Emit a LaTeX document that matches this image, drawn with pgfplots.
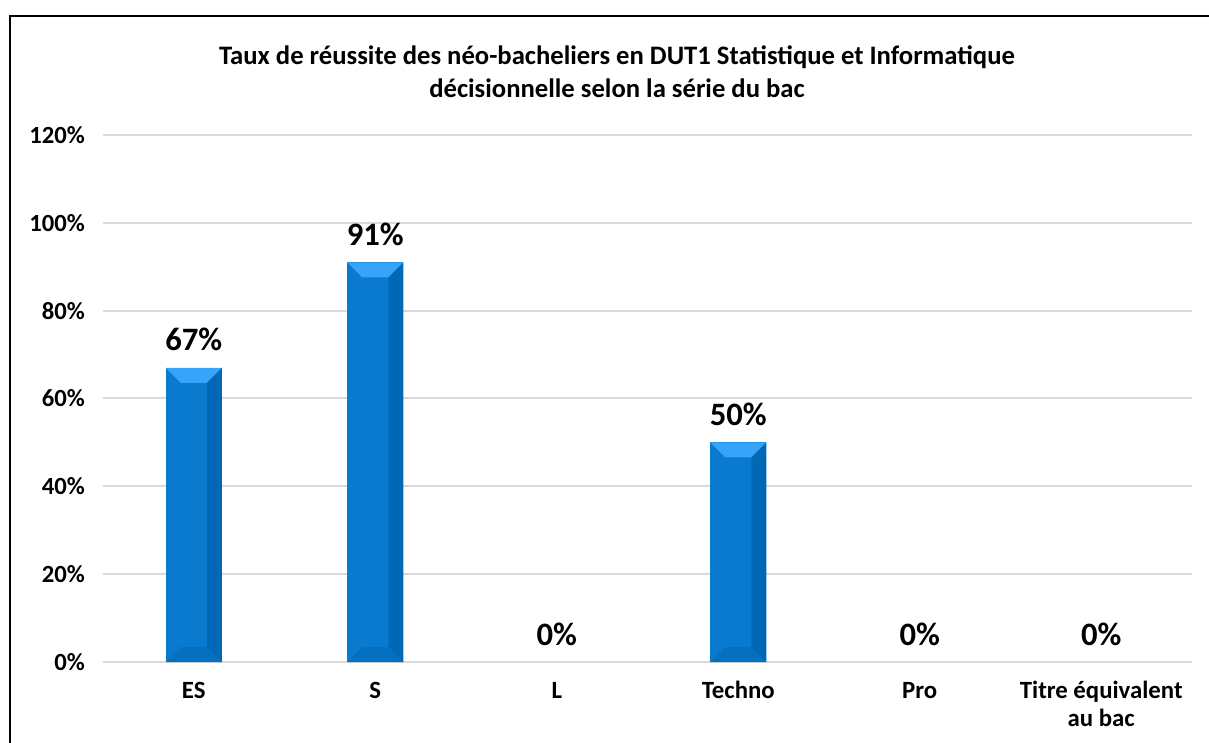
\documentclass[border=0pt]{standalone}
\usepackage{fontspec}
\setmainfont{Carlito}
\usepackage{pgfplots}
\pgfplotsset{compat=1.18}
\definecolor{barfront}{RGB}{10,122,206}
\definecolor{bartop}{RGB}{53,164,250}
\definecolor{barright}{RGB}{0,104,180}
\definecolor{barbottom}{RGB}{6,112,192}
\definecolor{gridgray}{RGB}{217,217,217}
\makeatletter
\newcommand\clearpp{\let\tikz@path@picture\pgfutil@empty}
\makeatother
\tikzset{bevel/.style={path picture={%
  \clearpp\tikzset{every path/.style={}}%
  \coordinate (NW) at (path picture bounding box.north west);
  \coordinate (NE) at (path picture bounding box.north east);
  \coordinate (SW) at (path picture bounding box.south west);
  \coordinate (SE) at (path picture bounding box.south east);
  \fill[barbottom] (SW) -- (SE) -- ([xshift=-11.25pt,yshift=11.25pt]SE) -- ([xshift=11.25pt,yshift=11.25pt]SW) -- cycle;
  \fill[barright] (NE) -- (SE) -- ([xshift=-11.25pt,yshift=11.25pt]SE) -- ([xshift=-11.25pt,yshift=-11.25pt]NE) -- cycle;
  \fill[bartop] (NW) -- (NE) -- ([xshift=-11.25pt,yshift=-11.25pt]NE) -- ([xshift=11.25pt,yshift=-11.25pt]NW) -- cycle;
}}}
\begin{document}
\begin{tikzpicture}
\useasboundingbox (0pt,0pt) rectangle (906.75pt,556.5pt);
\draw[line width=1.9pt] (7.5pt,-15pt) -- (7.5pt,544.5pt) -- (930pt,544.5pt);
\node[align=center, font=\fontsize{20}{24.75}\selectfont\bfseries] at (462.75pt,502.9pt)
  {Taux de réussite des néo-bacheliers en DUT1 Statistique et Informatique\\décisionnelle selon la série du bac};
\begin{axis}[
  at={(77.25pt,60pt)}, anchor=south west,
  scale only axis, width=816.75pt, height=395.25pt,
  xmin=-0.5, xmax=5.5, ymin=0, ymax=120,
  axis line style={draw=none},
  ytick={0,20,...,120}, yticklabels={0\%,20\%,40\%,60\%,80\%,100\%,120\%},
  xtick={0,...,5}, xticklabels={\strut ES,\strut S,\strut L,\strut Techno,\strut Pro,{\strut Titre équivalent\\au bac}},
  major tick length=0pt,
  ymajorgrids, grid style={gridgray, line width=1.5pt},
  tick label style={font=\fontsize{18.5}{21}\selectfont\bfseries},
  yticklabel style={xshift=-10pt},
  xticklabel style={align=center, font=\fontsize{18.6}{21}\selectfont\bfseries, yshift=-9.3pt},
  ybar, bar width=42pt,
  clip=false,
  /pgf/number format/assume math mode=true,
]
\addplot[fill=barfront, draw=none, bar shift=0pt, bevel] coordinates {(0,67)};
\addplot[fill=barfront, draw=none, bar shift=0pt, bevel] coordinates {(1,91)};
\addplot[fill=barfront, draw=none, bar shift=0pt, bevel] coordinates {(3,50)};
\addplot[draw=none, fill=none, bar shift=0pt,
  nodes near coords={\pgfmathprintnumber{\pgfplotspointmeta}\%},
  nodes near coords style={anchor=center, yshift=21pt, font=\fontsize{24.5}{27}\selectfont\bfseries}]
  coordinates {(0,67) (1,91) (2,0) (3,50) (4,0) (5,0)};
\end{axis}
\end{tikzpicture}
\end{document}
